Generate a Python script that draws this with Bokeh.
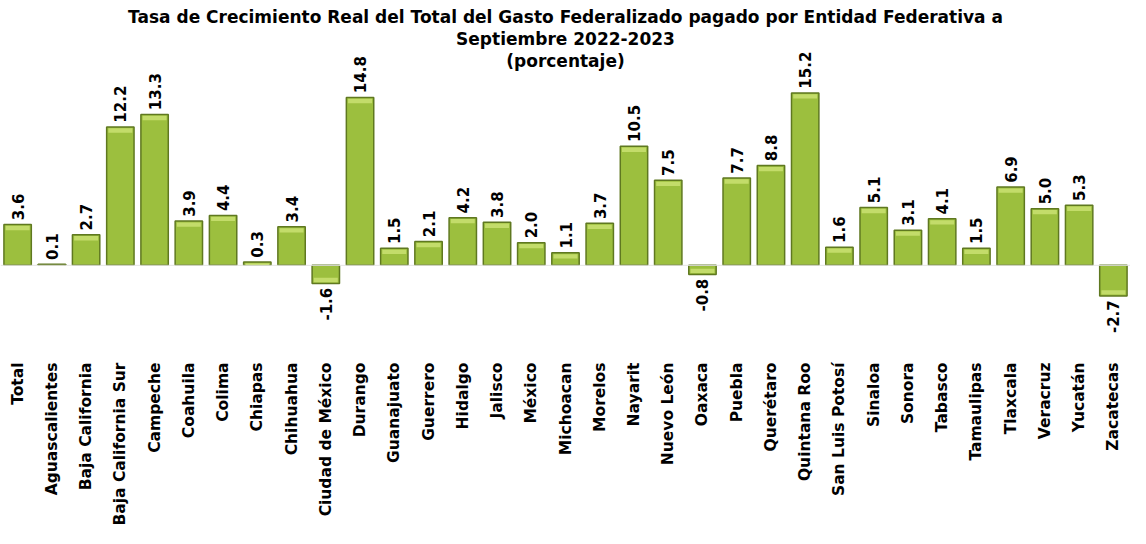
import math
from bokeh.plotting import figure
from bokeh.models import Range1d, Label, Span, ColumnDataSource
from bokeh.core.properties import value
from bokeh.embed import file_html
from bokeh.resources import INLINE

categories = ["Total", "Aguascalientes", "Baja California", "Baja California Sur", "Campeche",
              "Coahuila", "Colima", "Chiapas", "Chihuahua", "Ciudad de México", "Durango",
              "Guanajuato", "Guerrero", "Hidalgo", "Jalisco", "México", "Michoacan", "Morelos",
              "Nayarit", "Nuevo León", "Oaxaca", "Puebla", "Querétaro", "Quintana Roo",
              "San Luis Potosí", "Sinaloa", "Sonora", "Tabasco", "Tamaulipas", "Tlaxcala",
              "Veracruz", "Yucatán", "Zacatecas"]
values = [3.6, 0.1, 2.7, 12.2, 13.3, 3.9, 4.4, 0.3, 3.4, -1.6, 14.8,
          1.5, 2.1, 4.2, 3.8, 2.0, 1.1, 3.7, 10.5, 7.5, -0.8, 7.7, 8.8, 15.2,
          1.6, 5.1, 3.1, 4.1, 1.5, 6.9, 5.0, 5.3, -2.7]
title_lines = ["Tasa de Crecimiento Real del Total del Gasto Federalizado pagado por Entidad Federativa a",
               "Septiembre 2022-2023",
               "(porcentaje)"]

FONT = "DejaVu Sans"
Y0, Y1 = -8.39, 23.35

labels = [f"{v:.1f}" for v in values]
pad = 0.38
hl_top = [v - 0.12 if v >= 0 else v + 0.12 for v in values]
hl_bot = [v - 0.5 if v >= 0 else v + 0.5 for v in values]
hl_bot = [max(b, 0) if v >= 0 else min(b, 0) for b, v in zip(hl_bot, values)]

pos = ColumnDataSource(dict(x=[c for c, v in zip(categories, values) if v >= 0],
                            y=[v + pad for v in values if v >= 0],
                            t=[l for l, v in zip(labels, values) if v >= 0]))
neg = ColumnDataSource(dict(x=[c for c, v in zip(categories, values) if v < 0],
                            y=[v - pad for v in values if v < 0],
                            t=[l for l, v in zip(labels, values) if v < 0]))

p = figure(width=1130, height=528, x_range=categories, y_range=Range1d(Y0, Y1),
           output_backend="svg", toolbar_location=None, min_border=0,
           y_axis_location=None)
p.outline_line_color = None
p.xgrid.grid_line_color = None
p.ygrid.grid_line_color = None

p.add_layout(Span(location=0, dimension="width", line_color="#e4e4e4", line_width=1))

p.vbar(x=categories, top=values, bottom=0, width=0.8,
       fill_color="#9cbf3e", line_color="#5f7820", line_width=1.5)
p.vbar(x=categories, top=hl_top, bottom=hl_bot, width=0.7,
       fill_color="#c3dc6a", line_color=None)

p.text(x="x", y="y", text="t", source=pos, angle=math.pi / 2,
       text_align="left", text_baseline="middle",
       text_font=value(FONT), text_font_style="bold", text_font_size="15px",
       text_color="#000000")
p.text(x="x", y="y", text="t", source=neg, angle=math.pi / 2,
       text_align="right", text_baseline="middle",
       text_font=value(FONT), text_font_style="bold", text_font_size="15px",
       text_color="#000000")

ax = p.xaxis[0]
ax.major_label_orientation = math.pi / 2
ax.axis_line_color = None
ax.major_tick_line_color = None
ax.minor_tick_line_color = None
ax.major_tick_out = 0
ax.major_tick_in = 0
ax.major_label_standoff = 2
ax.major_label_text_font = FONT
ax.major_label_text_font_style = "bold"
ax.major_label_text_font_size = "15.5px"
ax.major_label_text_color = "#000000"

mid = (len(categories)) / 2
ty = [21.9, 19.95, 18.0]
for line, yy in zip(title_lines, ty):
    p.add_layout(Label(x=mid, y=yy, text=line, text_align="center", text_baseline="middle",
                       text_font=FONT, text_font_style="bold", text_font_size="17px",
                       text_color="#000000"))

open("out.html", "w").write(file_html(p, INLINE))
